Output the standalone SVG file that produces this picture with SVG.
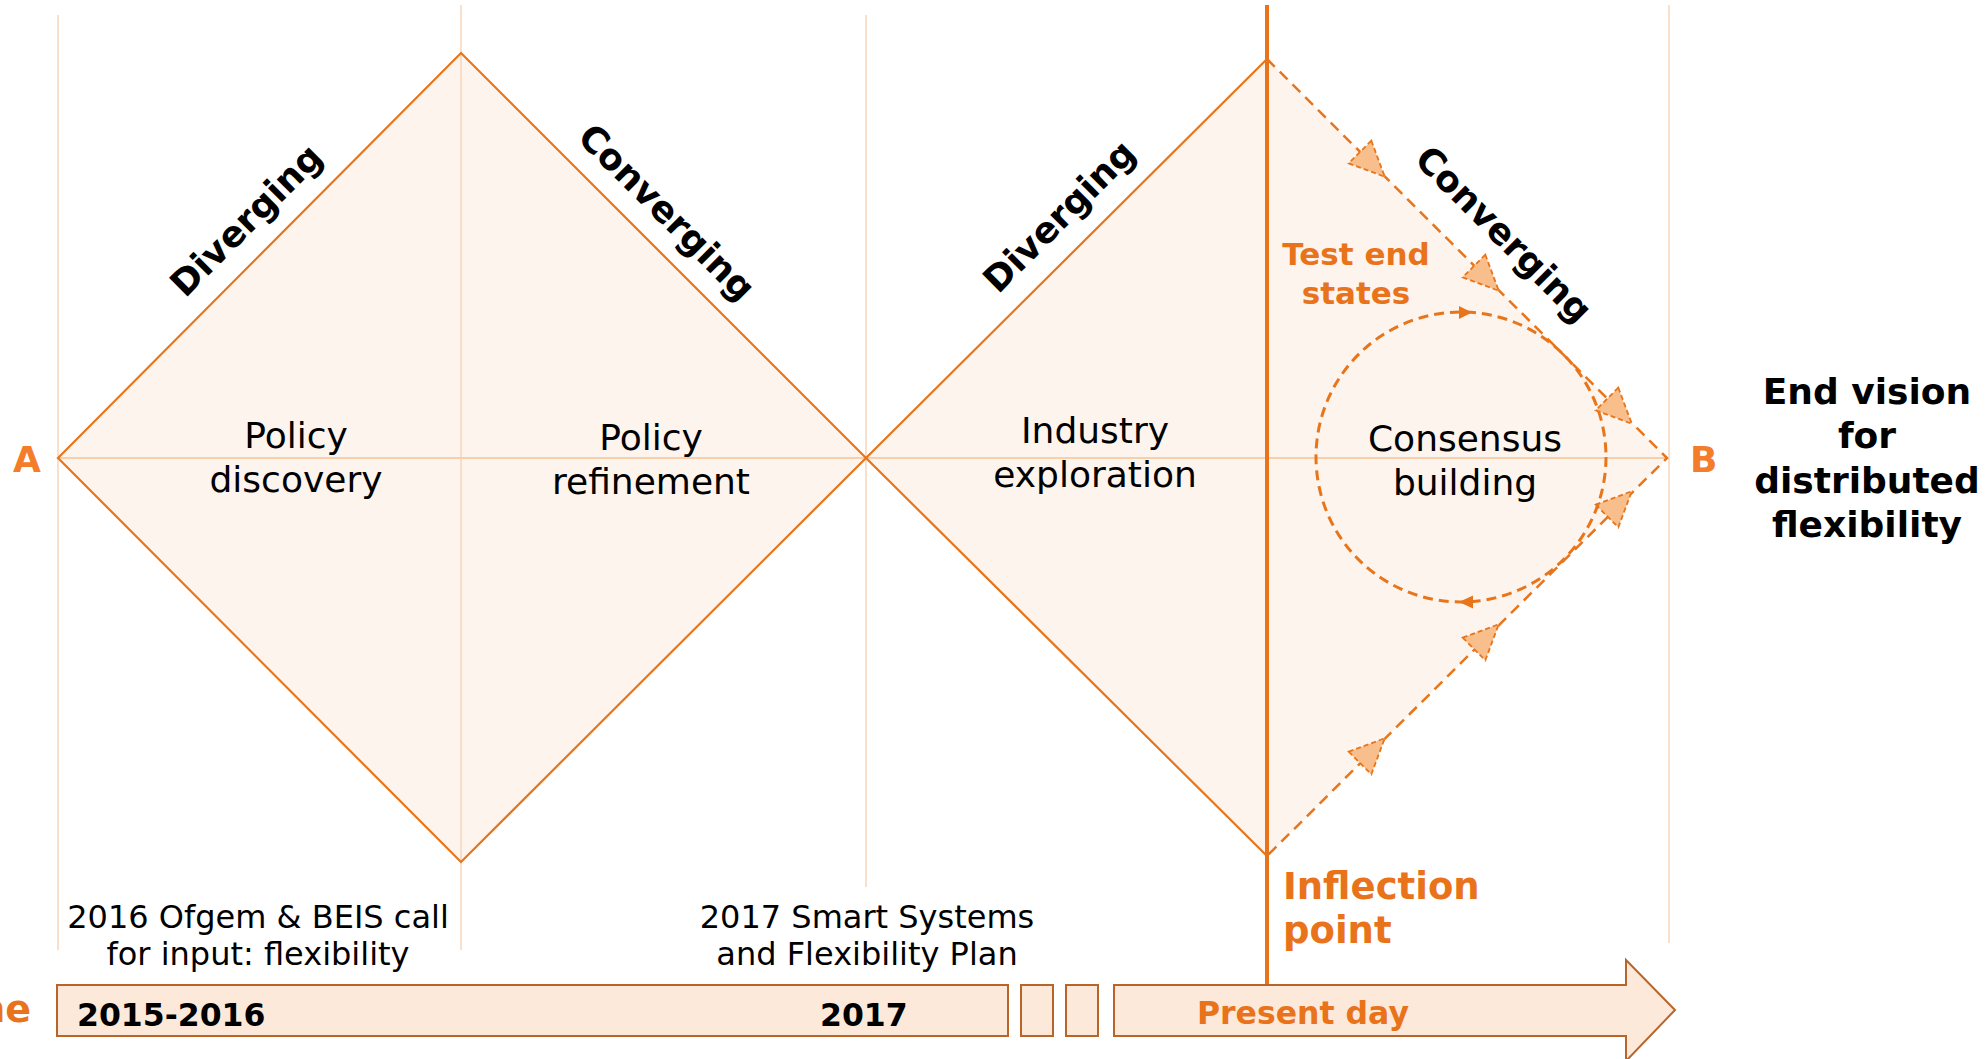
<svg xmlns="http://www.w3.org/2000/svg" width="1987" height="1059" viewBox="0 0 1987 1059">
<defs>
<style>
.grid{stroke:#F9D6B8;stroke-width:1.5;fill:none}
.hline{stroke:#F8CFAB;stroke-width:2;fill:none}
.dfill{fill:#FDF4EE;stroke:none}
.edge{stroke:#E8751A;stroke-width:2.2;fill:none;stroke-linejoin:miter}
.dash{stroke:#E8751A;stroke-width:2.5;fill:none;stroke-dasharray:11 7}
.circ{stroke:#E8751A;stroke-width:3;fill:none;stroke-dasharray:10 6}
.tri{fill:#F8BE8C;stroke:#E8751A;stroke-width:1.8;stroke-dasharray:5 3}
.ah{fill:#E8751A;stroke:none}
.tl{fill:#FDE9DA;stroke:#B8652A;stroke-width:2}
.lbl{font-family:"DejaVu Sans",Verdana,sans-serif;font-size:36px;fill:#000;text-anchor:middle}
.note{font-family:"DejaVu Sans",Verdana,sans-serif;font-size:32px;fill:#000;text-anchor:middle}
.diag{font-family:"DejaVu Sans",Verdana,sans-serif;font-size:36px;font-weight:bold;fill:#000;text-anchor:middle}
.bold{font-family:"DejaVu Sans",Verdana,sans-serif;font-weight:bold;fill:#000}
.or{fill:#E8731A}
.ab{font-family:"DejaVu Sans",Verdana,sans-serif;font-weight:bold;font-size:36px;fill:#F47D2C}
</style>
<polygon id="tri" points="0,-16 35,0 0,16"/>
</defs>

<g id="fills">
<polygon class="dfill" points="58,458 461,53 866,458 461,862"/>
<polygon class="dfill" points="866,458 1267,59 1667,458 1267,856"/>
</g>

<g id="gridlines">
<line class="grid" x1="58" y1="15" x2="58" y2="950"/>
<line class="grid" x1="461" y1="5" x2="461" y2="950"/>
<line class="grid" x1="866" y1="15" x2="866" y2="887"/>
<line class="grid" x1="1669" y1="5" x2="1669" y2="943"/>
<line class="hline" x1="58" y1="458" x2="1667" y2="458"/>
</g>

<g id="connectors">
<polygon class="edge" points="58,458 461,53 866,458 461,862"/>
<polyline class="edge" points="1267,59 866,458 1267,856"/>
<polyline class="dash" points="1267,59 1667,458 1267,856"/>
<line x1="1267" y1="5" x2="1267" y2="985" stroke="#E8731A" stroke-width="4"/>
<use href="#tri" class="tri" transform="translate(1360,152) rotate(45)"/>
<use href="#tri" class="tri" transform="translate(1474,266) rotate(45)"/>
<use href="#tri" class="tri" transform="translate(1607,399) rotate(45)"/>
<use href="#tri" class="tri" transform="translate(1360,763) rotate(-45)"/>
<use href="#tri" class="tri" transform="translate(1474,649) rotate(-45)"/>
<use href="#tri" class="tri" transform="translate(1607,516) rotate(-45)"/>
<circle class="circ" cx="1461" cy="457" r="145"/>
<polygon class="ah" points="1459,306 1459,319 1472,312.5"/>
<polygon class="ah" points="1473,595.5 1473,608.5 1459,602"/>
</g>

<g id="node-policy-discovery">
<text class="lbl" x="296" y="448">Policy</text>
<text class="lbl" x="296" y="492">discovery</text>
</g>
<g id="node-policy-refinement">
<text class="lbl" x="651" y="450">Policy</text>
<text class="lbl" x="651" y="494">refinement</text>
</g>
<g id="node-industry-exploration">
<text class="lbl" x="1095" y="443">Industry</text>
<text class="lbl" x="1095" y="487">exploration</text>
</g>
<g id="node-consensus-building">
<text class="lbl" x="1465" y="451">Consensus</text>
<text class="lbl" x="1465" y="495">building</text>
</g>

<g id="diag-labels">
<text class="diag" transform="translate(255,229) rotate(-45)">Diverging</text>
<text class="diag" transform="translate(658,221) rotate(45)">Converging</text>
<text class="diag" transform="translate(1068,225) rotate(-45)">Diverging</text>
<text class="diag" transform="translate(1495,243) rotate(45)">Converging</text>
</g>

<g id="node-A"><text class="ab" x="27" y="472" text-anchor="middle">A</text></g>
<g id="node-B"><text class="ab" x="1690" y="472">B</text></g>

<g id="node-test-end-states">
<text class="bold or" font-size="31" text-anchor="middle" x="1356" y="265">Test end</text>
<text class="bold or" font-size="31" text-anchor="middle" x="1356" y="304">states</text>
</g>

<g id="node-end-vision">
<text class="bold" font-size="36" text-anchor="middle" x="1867" y="404">End vision</text>
<text class="bold" font-size="36" text-anchor="middle" x="1867" y="448">for</text>
<text class="bold" font-size="36" text-anchor="middle" x="1867" y="493">distributed</text>
<text class="bold" font-size="36" text-anchor="middle" x="1867" y="537">flexibility</text>
</g>

<g id="node-inflection">
<text class="bold or" font-size="37" x="1283" y="899">Inflection</text>
<text class="bold or" font-size="37" x="1283" y="943">point</text>
</g>

<g id="node-notes">
<text class="note" x="258" y="928">2016 Ofgem &amp; BEIS call</text>
<text class="note" x="258" y="965">for input: flexibility</text>
<text class="note" x="867" y="928">2017 Smart Systems</text>
<text class="note" x="867" y="965">and Flexibility Plan</text>
</g>

<g id="timeline">
<rect class="tl" x="57" y="985" width="951" height="51"/>
<rect class="tl" x="1021" y="985" width="32" height="51"/>
<rect class="tl" x="1066" y="985" width="32" height="51"/>
<polygon class="tl" points="1114,985 1626,985 1626,960 1675,1010 1626,1061 1626,1036 1114,1036"/>
<text class="bold or" font-size="38" text-anchor="end" x="31" y="1022">Timeline</text>
<text class="bold" font-size="31.5" x="77" y="1026">2015-2016</text>
<text class="bold" font-size="31.5" x="820" y="1026">2017</text>
<text class="bold or" font-size="31.5" x="1197" y="1024">Present day</text>
</g>
</svg>
